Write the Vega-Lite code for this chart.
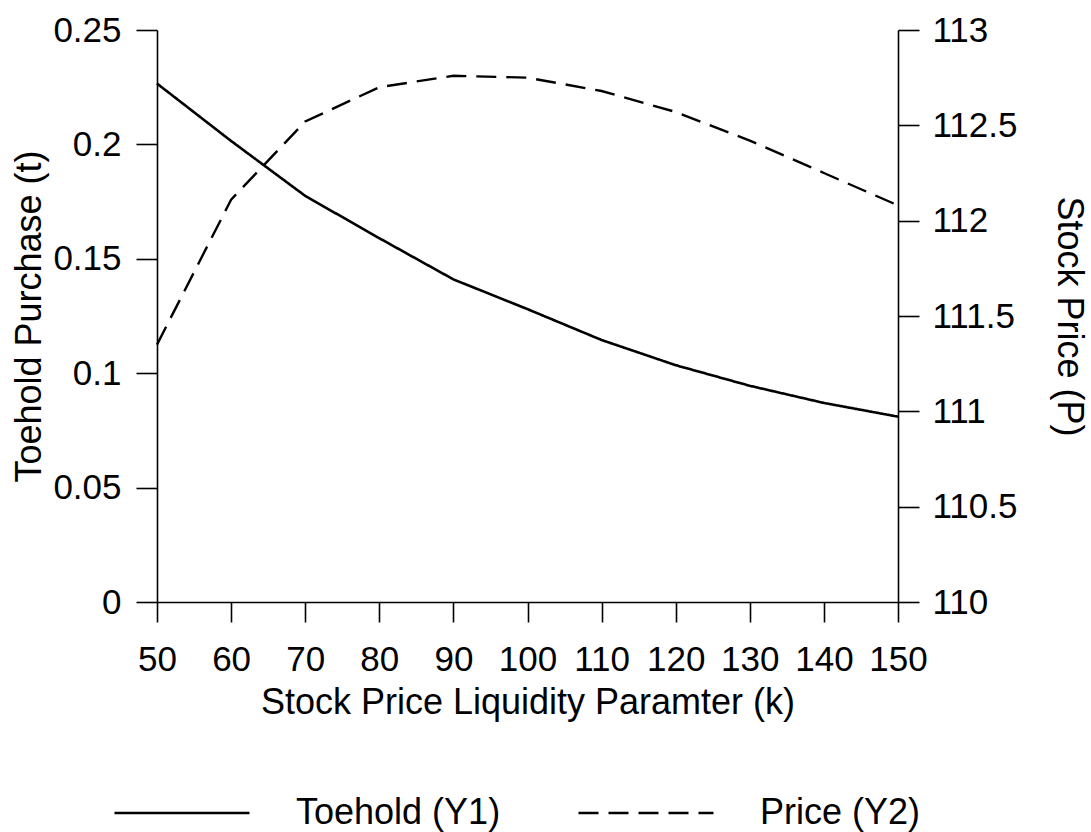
{
  "$schema": "https://vega.github.io/schema/vega-lite/v6.json",
  "width": 741,
  "height": 572,
  "autosize": {"type": "none"},
  "padding": {"left": 157, "top": 30, "right": 193, "bottom": 230},
  "background": "white",
  "config": {
    "view": {"stroke": null},
    "font": "Liberation Sans",
    "axis": {
      "grid": false,
      "domainColor": "black",
      "domainWidth": 1.6,
      "tickColor": "black",
      "tickWidth": 1.6,
      "labelColor": "black",
      "titleColor": "black",
      "labelFont": "Liberation Sans",
      "titleFont": "Liberation Sans",
      "labelFontSize": 35,
      "titleFontSize": 36,
      "titleFontWeight": "normal"
    }
  },
  "data": {
    "values": [
      {"k": 50, "toehold": 0.2266, "price": 111.35},
      {"k": 60, "toehold": 0.2015, "price": 112.11},
      {"k": 70, "toehold": 0.1775, "price": 112.52},
      {"k": 80, "toehold": 0.159, "price": 112.7},
      {"k": 90, "toehold": 0.141, "price": 112.76},
      {"k": 100, "toehold": 0.128, "price": 112.75},
      {"k": 110, "toehold": 0.1145, "price": 112.68},
      {"k": 120, "toehold": 0.1035, "price": 112.57},
      {"k": 130, "toehold": 0.0945, "price": 112.42},
      {"k": 140, "toehold": 0.087, "price": 112.25},
      {"k": 150, "toehold": 0.081, "price": 112.08}
    ]
  },
  "encoding": {
    "x": {
      "field": "k",
      "type": "quantitative",
      "scale": {"domain": [50, 150], "nice": false, "zero": false},
      "axis": {
        "title": "Stock Price Liquidity Paramter (k)",
        "values": [50, 60, 70, 80, 90, 100, 110, 120, 130, 140, 150],
        "tickSize": 20,
        "labelPadding": 20,
        "labelFlush": false,
        "labelOverlap": false,
        "titleY": 83,
        "titleBaseline": "top"
      }
    }
  },
  "layer": [
    {
      "mark": {"type": "line", "strokeWidth": 2.6, "color": "black"},
      "encoding": {
        "y": {
          "field": "toehold",
          "type": "quantitative",
          "scale": {"domain": [0, 0.25], "nice": false},
          "axis": {
            "title": "Toehold Purchase (t)",
            "orient": "left",
            "values": [0, 0.05, 0.1, 0.15, 0.2, 0.25],
            "format": ".2~f",
            "tickSize": 21,
            "labelPadding": 15,
            "labelFlush": false,
            "titleAngle": -90,
            "titleBaseline": "alphabetic",
            "titleX": -117
          }
        },
        "strokeDash": {
          "datum": "Toehold (Y1)",
          "type": "nominal",
          "scale": {"domain": ["Toehold (Y1)", "Price (Y2)"], "range": [[1, 0], [20, 10]]},
          "legend": {
            "title": null,
            "orient": "none",
            "legendX": -44,
            "legendY": 714,
            "direction": "horizontal",
            "columns": 2,
            "padding": 0,
            "symbolType": "stroke",
            "symbolSize": 18225,
            "symbolStrokeWidth": 2.4,
            "symbolStrokeColor": "black",
            "labelFontSize": 36,
            "labelFont": "Liberation Sans",
            "labelColor": "black",
            "labelOffset": 45,
            "labelLimit": 400,
            "columnPadding": 72
          }
        }
      }
    },
    {
      "mark": {"type": "line", "strokeWidth": 2.4, "color": "black"},
      "encoding": {
        "y": {
          "field": "price",
          "type": "quantitative",
          "scale": {"domain": [110, 113], "nice": false, "zero": false},
          "axis": {
            "title": "Stock Price (P)",
            "orient": "right",
            "values": [110, 110.5, 111, 111.5, 112, 112.5, 113],
            "format": ".1~f",
            "tickSize": 21,
            "labelPadding": 13,
            "labelFlush": false,
            "titleAngle": 90,
            "titleBaseline": "alphabetic",
            "titleX": 159
          }
        },
        "strokeDash": {"datum": "Price (Y2)", "type": "nominal"}
      }
    }
  ],
  "resolve": {"scale": {"y": "independent"}}
}
